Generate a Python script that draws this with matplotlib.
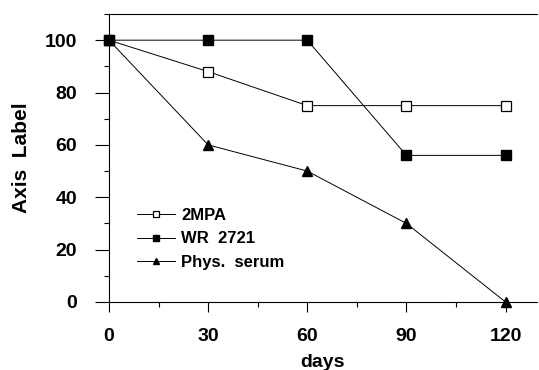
import numpy as np
import matplotlib
matplotlib.use("Agg")
import matplotlib.pyplot as plt
from matplotlib.ticker import MultipleLocator

# values
days = [0, 30, 60, 90, 120]
mpa = [100, 88, 75, 75, 75]
wr2721 = [100, 100, 100, 56, 56]
phys_serum = [100, 60, 50, 30, 0]

plt.rcParams['font.family'] = ['Liberation Sans', 'DejaVu Sans']
plt.rcParams['font.weight'] = 'bold'

fig = plt.figure(figsize=(5.39, 3.70), dpi=100)
ax = fig.add_axes([0.2022, 0.1838, 0.794, 0.7784])

ax.plot(days, mpa, color='black', lw=0.7, marker='s', ms=7,
        mfc='white', mec='black', mew=0.9, clip_on=False, label='2MPA')
ax.plot(days, wr2721, color='black', lw=0.7, marker='s', ms=7,
        mfc='black', mec='black', clip_on=False, label='WR  2721')
ax.plot(days, phys_serum, color='black', lw=0.7, marker='^', ms=7,
        mfc='black', mec='black', clip_on=False, label='Phys.  serum')

ax.set_xlim(0, 129.5)
ax.set_ylim(0, 110)
ax.xaxis.set_major_locator(MultipleLocator(30))
ax.xaxis.set_minor_locator(MultipleLocator(15))
ax.yaxis.set_major_locator(MultipleLocator(20))
ax.yaxis.set_minor_locator(MultipleLocator(10))
ax.set_yticks([0, 20, 40, 60, 80, 100])

ax.spines['right'].set_visible(False)
for s in ['left', 'bottom', 'top']:
    ax.spines[s].set_linewidth(0.8)

ax.tick_params(axis='y', which='major', direction='out', length=10, width=0.8,
               pad=13, labelsize=14)
ax.tick_params(axis='y', which='minor', direction='out', length=3.5, width=0.8)
ax.tick_params(axis='x', which='major', direction='out', length=7, width=0.8,
               pad=12, labelsize=14)
ax.tick_params(axis='x', which='minor', direction='out', length=3.5, width=0.8)
for lab in ax.get_xticklabels() + ax.get_yticklabels():
    lab.set_fontweight('bold')

ax.set_xlabel('days', fontsize=14, fontweight='bold', labelpad=6)
ax.set_ylabel('Axis  Label', fontsize=15, fontweight='bold', labelpad=10)

leg = ax.legend(loc='lower left', bbox_to_anchor=(0.03, 0.06), frameon=False,
                markerscale=0.65, handlelength=2.3,
                handletextpad=0.36, labelspacing=0.5,
                prop={'weight': 'bold', 'size': 12})

fig.savefig('out.png', dpi=100)
